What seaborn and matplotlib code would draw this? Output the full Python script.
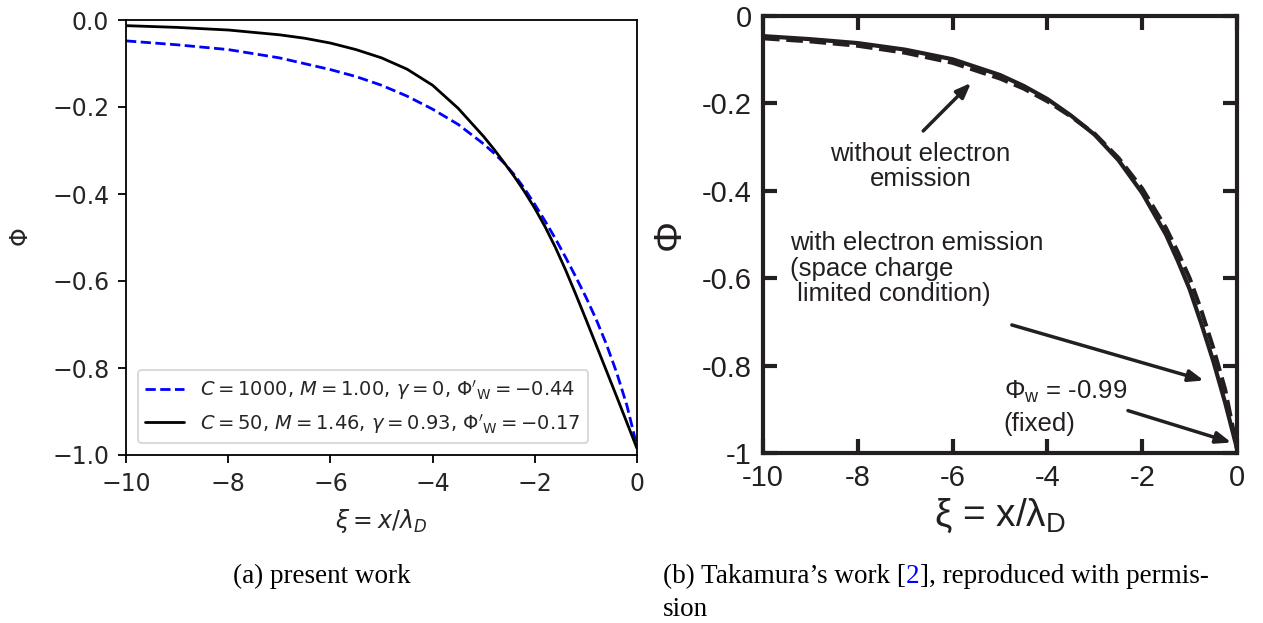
import numpy as np
import pandas as pd
import matplotlib
matplotlib.use("Agg")
import matplotlib.pyplot as plt
import seaborn as sns

# ---------------- data ----------------
# (a) present work
xi_c1000 = [-10, -9, -8, -7, -6, -5.5, -5, -4.5, -4, -3.5, -3, -2.8, -2.6, -2.4, -2.2, -2, -1.8, -1.6,
            -1.4, -1.2, -1.0, -0.8, -0.6, -0.4, -0.2, 0]
phi_c1000 = [-0.048, -0.057, -0.068, -0.087, -0.114, -0.130, -0.150, -0.175, -0.205, -0.240, -0.285,
             -0.306, -0.329, -0.356, -0.388, -0.424, -0.462, -0.502, -0.545, -0.590, -0.637, -0.688,
             -0.745, -0.810, -0.885, -0.980]
xi_c50 = [-10, -9, -8, -7, -6.5, -6, -5.5, -5, -4.5, -4, -3.5, -3, -2.8, -2.6, -2.4, -2.2, -2, -1.8,
          -1.6, -1.4, -1.2, -1.0, -0.8, -0.6, -0.4, -0.2, 0]
phi_c50 = [-0.013, -0.017, -0.023, -0.034, -0.042, -0.053, -0.068, -0.087, -0.113, -0.150, -0.203,
           -0.268, -0.297, -0.328, -0.360, -0.395, -0.433, -0.475, -0.522, -0.574, -0.630, -0.688,
           -0.747, -0.806, -0.865, -0.925, -0.985]
label_c1000 = r"$C = 1000$, $M = 1.00$, $\gamma = 0$, $\Phi'_{\rm W} = -0.44$"
label_c50 = r"$C = 50$, $M = 1.46$, $\gamma = 0.93$, $\Phi'_{\rm W} = -0.17$"

# (b) Takamura's work
xi_tk = [-10, -9, -8, -7, -6, -5, -4.5, -4, -3.5, -3, -2.5, -2, -1.5, -1.25, -1, -0.75, -0.5, -0.25, 0]
phi_tk_with = [-0.046, -0.053, -0.062, -0.077, -0.099, -0.135, -0.160, -0.190, -0.228, -0.272, -0.330,
               -0.405, -0.500, -0.560, -0.625, -0.705, -0.790, -0.885, -0.990]
phi_tk_without = [-0.051, -0.058, -0.068, -0.084, -0.107, -0.143, -0.166, -0.195, -0.230, -0.270, -0.325,
                  -0.395, -0.485, -0.540, -0.600, -0.675, -0.760, -0.855, -0.990]

ticks_a_x = [-10, -8, -6, -4, -2, 0]
ticks_a_y = [0.0, -0.2, -0.4, -0.6, -0.8, -1.0]
ticks_b_x = [-10, -8, -6, -4, -2, 0]
ticklabels_b_x = ["-10", "-8", "-6", "-4", "-2", "0"]
ticks_b_y = [0, -0.2, -0.4, -0.6, -0.8, -1]
ticklabels_b_y = ["0", "-0.2", "-0.4", "-0.6", "-0.8", "-1"]

caption_a = "(a) present work"
caption_b1 = "(b) Takamura\u2019s work ["
caption_b_ref = "2"
caption_b2 = "], reproduced with permis-"
caption_b3 = "sion"

# ---------------- style ----------------
sns.set_style("ticks")
plt.rcParams["font.family"] = ["DejaVu Sans"]
plt.rcParams["mathtext.fontset"] = "dejavusans"

W, H = 1263, 623
fig = plt.figure(figsize=(W / 100, H / 100), dpi=100)

# ---------------- panel (a) ----------------
axa = fig.add_axes([126 / W, 1 - 455 / H, 511 / W, 435 / H])
df_a1 = pd.DataFrame({"xi": xi_c1000, "phi": phi_c1000})
df_a2 = pd.DataFrame({"xi": xi_c50, "phi": phi_c50})
sns.lineplot(data=df_a1, x="xi", y="phi", ax=axa, color="blue", linestyle="--", lw=2.0,
             label=label_c1000, sort=False)
sns.lineplot(data=df_a2, x="xi", y="phi", ax=axa, color="black", linestyle="-", lw=2.0,
             label=label_c50, sort=False)
axa.set_xlim(-10, 0)
axa.set_ylim(-1.0, 0.0)
axa.set_xticks(ticks_a_x)
axa.set_yticks(ticks_a_y)
axa.tick_params(axis="both", direction="out", length=6, width=1.3, labelsize=17, pad=6, color="black")
for s in axa.spines.values():
    s.set_linewidth(1.3)
    s.set_color("black")
axa.set_xlabel(r"$\xi = x/\lambda_D$", fontsize=17, labelpad=8)
axa.set_ylabel(r"$\Phi$", fontsize=17, labelpad=14)
leg = axa.legend(loc="lower left", fontsize=14, frameon=True, handlelength=2.0,
                 borderaxespad=0.6, framealpha=0.8, edgecolor="0.8", labelspacing=0.5)
leg.get_frame().set_linewidth(1.3)

# ---------------- panel (b) ----------------
sans = ["Liberation Sans", "DejaVu Sans"]
axb = fig.add_axes([763 / W, 1 - 453 / H, 474 / W, 437 / H])
df_b1 = pd.DataFrame({"xi": xi_tk, "phi": phi_tk_with})
df_b2 = pd.DataFrame({"xi": xi_tk, "phi": phi_tk_without})
sns.lineplot(data=df_b2, x="xi", y="phi", ax=axb, color="#231f20", lw=3.0, sort=False)
axb.lines[-1].set_dashes([4, 1.6])
sns.lineplot(data=df_b1, x="xi", y="phi", ax=axb, color="#231f20", lw=3.0, sort=False)
axb.set_xlim(-10, 0)
axb.set_ylim(-1, 0)
axb.set_xticks(ticks_b_x)
axb.set_xticklabels(ticklabels_b_x, family=sans)
axb.set_yticks(ticks_b_y)
axb.set_yticklabels(ticklabels_b_y, family=sans)
axb.tick_params(axis="both", direction="in", length=10, width=3, labelsize=21, color="#231f20",
                top=True, right=True, labelcolor="#231f20")
axb.tick_params(axis="x", pad=8)
axb.tick_params(axis="y", pad=8)
for s in axb.spines.values():
    s.set_linewidth(3)
    s.set_color("#231f20")
axb.set_xlabel(r"ξ = x/λ$_{\mathregular{D}}$", fontsize=28, family=sans, labelpad=3, color="#231f20")
axb.set_ylabel("Φ", fontsize=28, family=sans, labelpad=10, color="#231f20")

ann_kw = dict(fontsize=18.5, family=sans, color="#231f20")
arrow_kw = dict(arrowstyle="-|>,head_length=0.9,head_width=0.35", color="#231f20", lw=2.5,
                shrinkA=0, shrinkB=0)
axb.annotate("", xy=(-5.61, -0.153), xytext=(-6.62, -0.263), arrowprops=arrow_kw)
axb.text(-6.68, -0.345, "without electron\nemission", ha="center", va="center",
         linespacing=1.05, **ann_kw)
axb.text(-9.42, -0.578, "with electron emission\n(space charge\n limited condition)", ha="left",
         va="center", linespacing=1.1, **ann_kw)
axb.annotate("", xy=(-0.70, -0.834), xytext=(-4.75, -0.707), arrowprops=arrow_kw)
axb.text(-4.92, -0.895, "Φ$_{\\mathregular{w}}$ = -0.99\n(fixed)", ha="left", va="center",
         linespacing=1.35, **ann_kw)
axb.annotate("", xy=(-0.12, -0.976), xytext=(-2.30, -0.903), arrowprops=arrow_kw)

# ---------------- captions ----------------
serif = ["Liberation Serif", "DejaVu Serif"]
cap_kw = dict(fontsize=19.5, family=serif, color="black", va="baseline")
fig.text(322 / W, 1 - 583 / H, caption_a, ha="center", **cap_kw)
fig.canvas.draw()
r = fig.canvas.get_renderer()
t1 = fig.text(663 / W, 1 - 583 / H, caption_b1, ha="left", **cap_kw)
bb = t1.get_window_extent(r)
t2 = fig.text(bb.x1 / W, 1 - 583 / H, caption_b_ref, ha="left", **{**cap_kw, "color": "blue"})
bb2 = t2.get_window_extent(r)
fig.text(bb2.x1 / W, 1 - 583 / H, caption_b2, ha="left", **cap_kw)
fig.text(663 / W, 1 - 616 / H, caption_b3, ha="left", **cap_kw)

fig.savefig("out.png", dpi=100)
